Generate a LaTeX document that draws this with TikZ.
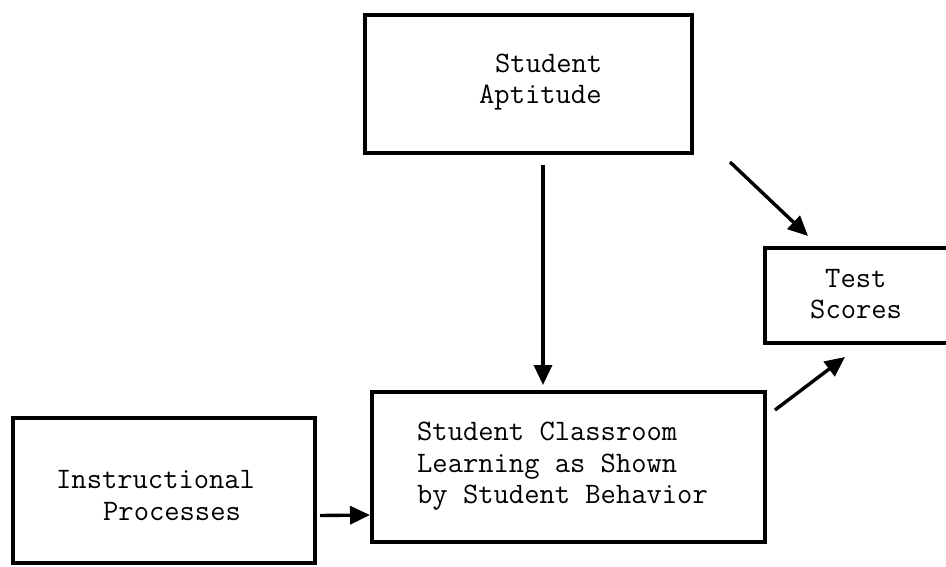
\documentclass[tikz,border=0pt]{standalone}
\usepackage{fontspec}
\usetikzlibrary{arrows.meta}
\begin{document}
\begin{tikzpicture}[x=1pt,y=-1pt,
  box/.style={draw,line width=3.2pt,rectangle,inner sep=0pt,outer sep=0pt},
  txt/.style={anchor=base west,inner sep=0pt,font=\ttfamily\fontsize{29.7}{31}\selectfont},
  arr/.style={line width=3.4pt,-{Triangle[length=20pt,width=18pt]}}]
\useasboundingbox (0,0) rectangle (946,566);
% boxes
\node[box,minimum width=327pt,minimum height=138pt] (apt) at (528.5,84) {};
\node[box,minimum width=210pt,minimum height=95pt] (test) at (870,295.5) {};
\node[box,minimum width=302pt,minimum height=145pt] (inst) at (164,490.5) {};
\node[box,minimum width=393pt,minimum height=150pt] (learn) at (568.5,467) {};
% texts
\node[txt] (apt1) at (495,72) {Student};
\node[txt] (apt2) at (479,103) {Aptitude};
\node[txt] (test1) at (825,287) {Test};
\node[txt] (test2) at (810,318) {Scores};
\node[txt] (inst1) at (56,488) {Instructional};
\node[txt] (inst2) at (103,520) {Processes};
\node[txt] (learn1) at (417,440) {Student Classroom};
\node[txt] (learn2) at (417,472) {Learning as Shown};
\node[txt] (learn3) at (417,503) {by Student Behavior};
% arrows
\draw[arr] ([xshift=14.5pt,yshift=-12pt]apt.south) -- ([xshift=-25.5pt,yshift=7pt]learn.north);
\draw[arr] ([xshift=38pt,yshift=-9pt]apt.south east) -- ([xshift=43pt,yshift=12pt]test.north west);
\draw[arr] ([xshift=10pt,yshift=-18pt]learn.north east) -- ([xshift=80pt,yshift=-14pt]test.south west);
\draw[arr] ([xshift=5pt,yshift=-25pt]inst.east) -- ([xshift=-2pt,yshift=-48pt]learn.west);
\end{tikzpicture}
\end{document}
